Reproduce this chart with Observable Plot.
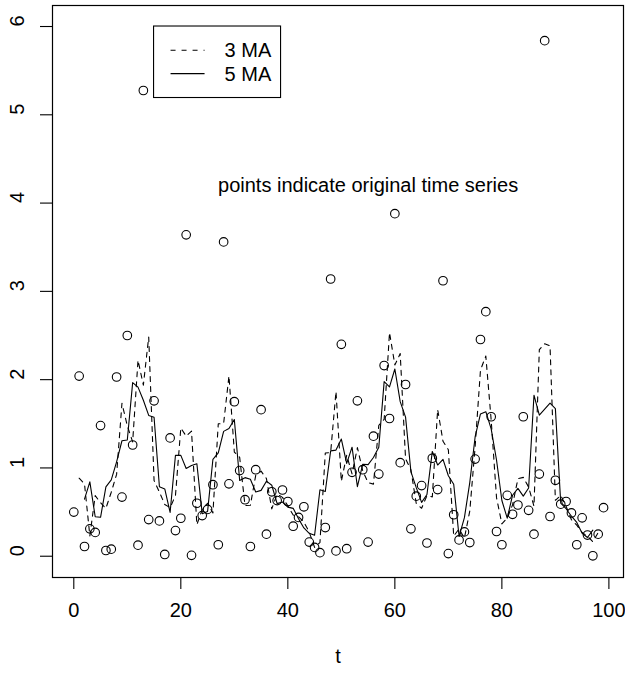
<!DOCTYPE html>
<html>
<head>
<meta charset="utf-8">
<script src="https://cdn.jsdelivr.net/npm/d3@7"></script>
<script src="https://cdn.jsdelivr.net/npm/@observablehq/plot@0.6"></script>
<style>
  html, body { margin: 0; padding: 0; background: white; }
  #chart svg { display: block; }
</style>
</head>
<body>
<div id="chart"></div>
<script>
// Original time series values, one per t = 0..99
const values = [
  0.50, 2.04, 0.11, 0.31, 0.27, 1.48, 0.065, 0.08, 2.03, 0.67,
  2.50, 1.26, 0.125, 5.275, 0.415, 1.76, 0.40, 0.02, 1.34, 0.29,
  0.43, 3.64, 0.01, 0.60, 0.46, 0.53, 0.81, 0.13, 3.56, 0.82,
  1.75, 0.97, 0.64, 0.11, 0.98, 1.66, 0.25, 0.73, 0.63, 0.75,
  0.62, 0.34, 0.44, 0.56, 0.16, 0.10, 0.04, 0.325, 3.14, 0.06,
  2.40, 0.085, 0.95, 1.76, 0.98, 0.16, 1.36, 0.93, 2.16, 1.56,
  3.88, 1.06, 1.945, 0.31, 0.68, 0.80, 0.15, 1.11, 0.755, 3.12,
  0.03, 0.47, 0.185, 0.275, 0.155, 1.10, 2.455, 2.77, 1.58, 0.28,
  0.13, 0.69, 0.475, 0.58, 1.58, 0.52, 0.25, 0.93, 5.84, 0.45,
  0.86, 0.59, 0.62, 0.49, 0.13, 0.435, 0.24, 0.005, 0.25, 0.55
];
const xTicks = [0, 20, 40, 60, 80, 100];
const yTicks = [0, 1, 2, 3, 4, 5, 6];
const xLabel = "t";
const legendItems = ["3 MA", "5 MA"];
const legendWindows = [3, 5];
const legendAnchor = [15, 6];
const note = [{x: 55, y: 4.2, label: "points indicate original time series"}];

const data = values.map((v, i) => ({t: i, v}));

const FONT = "'Liberation Sans', Arial, Helvetica, sans-serif";

const chart = Plot.plot({
  width: 625,
  height: 673,
  marginLeft: 52,
  marginRight: 2,
  marginTop: 5,
  marginBottom: 96,
  style: {fontFamily: FONT, fontSize: "20px", background: "white", color: "black"},
  x: {domain: [-3.98, 102.73], axis: null},
  y: {domain: [-0.241, 6.238], axis: null},
  marks: [
    Plot.lineY(data, Plot.windowY({k: 3, anchor: "middle", strict: true}, {
      x: "t", y: "v", stroke: "black", strokeWidth: 1.1, strokeDasharray: "5,5"
    })),
    Plot.lineY(data, Plot.windowY({k: 5, anchor: "middle", strict: true}, {
      x: "t", y: "v", stroke: "black", strokeWidth: 1.1
    })),
    Plot.dot(data, {x: "t", y: "v", r: 4.3, stroke: "black", strokeWidth: 1.1, fill: "none"}),
    Plot.text(note, {x: "x", y: "y", text: "label", fontSize: 20, fill: "black"}),
    Plot.axisX({ticks: xTicks, tickSize: 12, tickPadding: 13, fontSize: 20, label: null, strokeWidth: 1.1}),
    Plot.axisY({ticks: yTicks, tickSize: 12, tickFormat: () => "", label: null, strokeWidth: 1.1}),
    Plot.text(yTicks, {y: d => d, text: d => String(d), frameAnchor: "left", dx: -35, rotate: -90, fontSize: 20, fill: "black"}),
    Plot.text([xLabel], {text: d => d, frameAnchor: "bottom", dy: 85, fontSize: 20, fill: "black"}),
    Plot.frame({stroke: "black", strokeWidth: 1.2})
  ]
});

document.getElementById("chart").appendChild(chart);

// Legend placed at data coordinates (legendAnchor) like R's legend(x, y, ...)
const sx = chart.scale("x"), sy = chart.scale("y");
const lx = sx.apply(legendAnchor[0]);
const ly = sy.apply(legendAnchor[1]);
const svg = d3.select(chart);
const g = svg.append("g").attr("font-family", FONT).attr("font-size", 20).attr("text-anchor", "start");
g.append("rect")
  .attr("x", lx).attr("y", ly).attr("width", 127).attr("height", 71.5)
  .attr("fill", "white").attr("stroke", "black").attr("stroke-width", 1.1);
legendItems.forEach((label, i) => {
  const yy = ly + 24.3 + i * 23.3;
  g.append("line")
    .attr("x1", lx + 17).attr("x2", lx + 51)
    .attr("y1", yy).attr("y2", yy)
    .attr("stroke", "black").attr("stroke-width", 1.1)
    .attr("stroke-dasharray", legendWindows[i] === 3 ? "5,6" : null);
  g.append("text")
    .attr("x", lx + 71).attr("y", yy).attr("dy", "0.35em")
    .attr("text-anchor", "start")
    .attr("fill", "black")
    .text(label);
});
</script>
</body>
</html>
